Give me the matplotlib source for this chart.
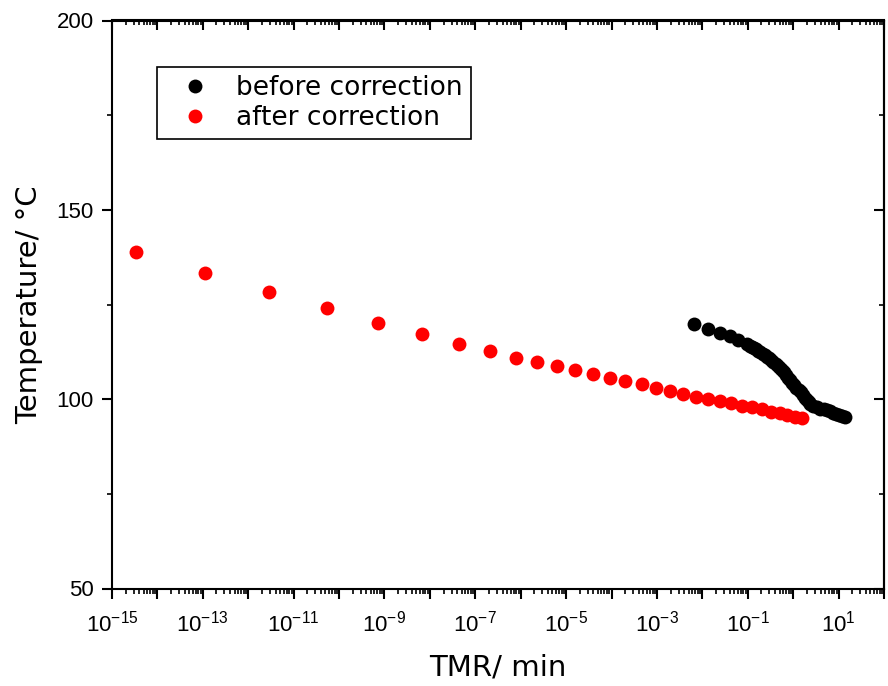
import numpy as np
import matplotlib
matplotlib.use("Agg")
import matplotlib.pyplot as plt
from matplotlib.ticker import LogLocator, FuncFormatter, MultipleLocator, NullFormatter

plt.rcParams['font.family'] = ['Liberation Sans', 'DejaVu Sans']
plt.rcParams['mathtext.fontset'] = 'custom'
plt.rcParams['mathtext.rm'] = 'Liberation Sans'
plt.rcParams['mathtext.it'] = 'Liberation Sans'
plt.rcParams['mathtext.default'] = 'regular'

# ---- data ----
tmr_before = [6.7e-3, 1.36e-2, 2.47e-2, 4.09e-2, 6.24e-2, 9.55e-2, 0.110, 0.125,
              0.139, 0.153, 0.170, 0.187, 0.214, 0.242, 0.268, 0.296, 0.330,
              0.368, 0.410, 0.456, 0.507, 0.564, 0.630, 0.701, 0.777, 0.859,
              0.950, 1.05, 1.17, 1.31, 1.45, 1.62, 1.80, 2.00, 2.18, 2.37, 2.80,
              3.30, 3.94, 4.70, 5.52, 6.53, 7.60, 8.85, 10.3, 12.0, 14.0]
temp_before = [119.8, 118.6, 117.5, 116.7, 115.6, 114.5, 114.1, 113.8, 113.5,
               113.2, 112.8, 112.4, 112.0, 111.6, 111.2, 110.8, 110.4, 109.9,
               109.4, 108.8, 108.3, 107.7, 107.1, 106.4, 105.7, 105.0, 104.4,
               103.7, 103.0, 102.4, 101.8, 101.1, 100.4, 99.7, 99.2, 98.8, 98.2,
               97.8, 97.5, 97.3, 97.1, 96.8, 96.4, 96.1, 95.8, 95.5, 95.2]

tmr_after = [3.4e-15, 1.1e-13, 2.9e-12, 5.5e-11, 7.2e-10, 6.8e-9, 4.4e-8, 2.1e-7,
             7.8e-7, 2.3e-6, 6.3e-6, 1.6e-5, 3.9e-5, 9.3e-5, 2.0e-4, 4.6e-4,
             9.5e-4, 1.95e-3, 3.8e-3, 7.2e-3, 1.35e-2, 2.4e-2, 4.3e-2, 7.4e-2,
             0.126, 0.204, 0.324, 0.501, 0.741, 1.10, 1.58]
temp_after = [138.8, 133.4, 128.4, 124.0, 120.2, 117.1, 114.6, 112.6, 111.0,
              109.9, 108.7, 107.7, 106.7, 105.6, 104.7, 103.9, 103.0, 102.2,
              101.4, 100.7, 100.1, 99.5, 98.9, 98.3, 97.8, 97.3, 96.7, 96.3,
              95.8, 95.4, 95.1]

labels = ['before correction', 'after correction']
colors = ['black', 'red']

fig = plt.figure(figsize=(8.88, 6.86), dpi=100)
ax = fig.add_axes([112/888, 1-588.5/686, (884-112)/888, (588.5-20.5)/686])

ax.plot(tmr_before, temp_before, 'o', color=colors[0], markersize=10,
        markeredgewidth=0, label=labels[0])
ax.plot(tmr_after, temp_after, 'o', color=colors[1], markersize=10,
        markeredgewidth=0, label=labels[1])

ax.set_xscale('log')
ax.set_xlim(1e-15, 1e2)
ax.set_ylim(50, 200)

def fmt(v, p):
    e = int(round(np.log10(v)))
    if e % 2 != 0:
        return r'$10^{%d}$' % e
    return ''

ax.xaxis.set_major_locator(LogLocator(base=10, numticks=40))
ax.xaxis.set_major_formatter(FuncFormatter(fmt))
ax.xaxis.set_minor_locator(LogLocator(base=10, subs=np.arange(2, 10), numticks=40))
ax.xaxis.set_minor_formatter(NullFormatter())
ax.yaxis.set_major_locator(MultipleLocator(50))
ax.yaxis.set_minor_locator(MultipleLocator(25))

for s in ax.spines.values():
    s.set_linewidth(1.5)

ax.tick_params(axis='both', which='major', direction='out', length=7, width=1.5,
               labelsize=16)
ax.tick_params(axis='x', which='major', pad=9)
ax.tick_params(axis='y', which='major', pad=6)
ax.tick_params(axis='both', which='minor', direction='out', length=3.6, width=1.2)

# top / right inward ticks
sx = ax.secondary_xaxis('top')
sx.xaxis.set_major_locator(LogLocator(base=10, numticks=40))
sx.xaxis.set_minor_locator(LogLocator(base=10, subs=np.arange(2, 10), numticks=40))
sx.xaxis.set_major_formatter(NullFormatter())
sx.xaxis.set_minor_formatter(NullFormatter())
sx.tick_params(which='major', direction='in', length=7, width=1.5)
sx.tick_params(which='minor', direction='in', length=3.6, width=1.2)
sx.spines['top'].set_linewidth(1.5)

sy = ax.secondary_yaxis('right')
sy.yaxis.set_major_locator(MultipleLocator(50))
sy.yaxis.set_minor_locator(MultipleLocator(25))
sy.yaxis.set_major_formatter(NullFormatter())
sy.tick_params(which='major', direction='in', length=7, width=1.5)
sy.tick_params(which='minor', direction='in', length=3.6, width=1.2)
sy.spines['right'].set_linewidth(1.5)

ax.set_xlabel('TMR/ min', fontsize=21, labelpad=12, family=['DejaVu Sans'])
ax.set_ylabel('Temperature/ °C', fontsize=21, labelpad=10, family=['DejaVu Sans'])

leg = ax.legend(loc='upper left', bbox_to_anchor=((157-112)/772, 1-(67-20.5)/568),
                borderaxespad=0, prop={'family': 'DejaVu Sans', 'size': 19},
                frameon=True, fancybox=False, framealpha=1, edgecolor='black',
                handletextpad=0.45, borderpad=0.3, labelspacing=0.15,
                handlelength=2.25)
leg.get_frame().set_linewidth(1.2)

fig.savefig('out.png', dpi=100)
